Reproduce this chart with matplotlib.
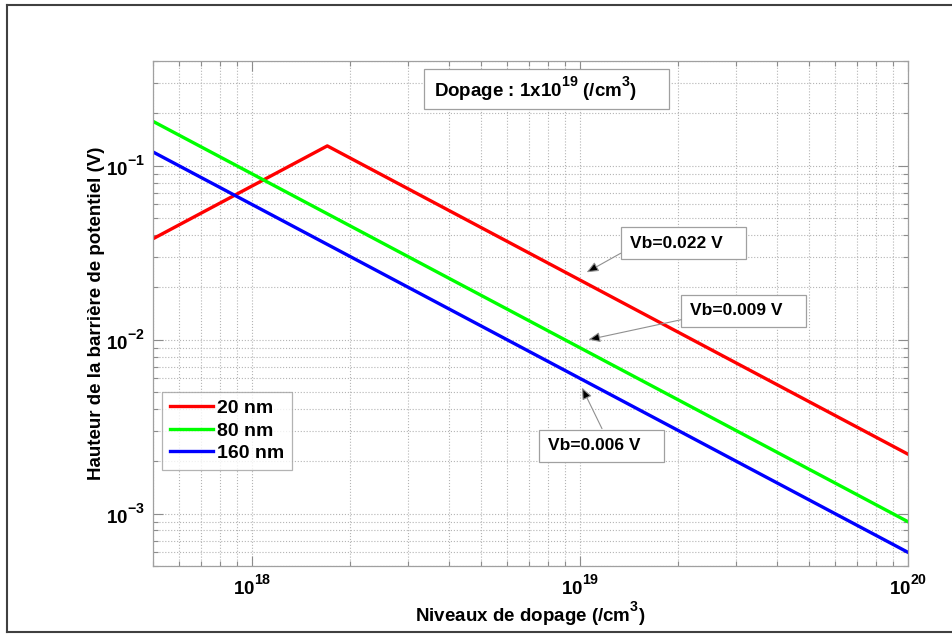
import matplotlib
matplotlib.use("Agg")
import matplotlib.pyplot as plt
import matplotlib.transforms as mtransforms
from matplotlib.patches import Rectangle
from matplotlib.ticker import LogLocator, FuncFormatter, NullFormatter
import numpy as np

plt.rcParams['font.family'] = ['Liberation Sans', 'DejaVu Sans']
plt.rcParams['font.weight'] = 'bold'
plt.rcParams['mathtext.fontset'] = 'custom'
plt.rcParams['mathtext.rm'] = 'Liberation Sans:bold'
plt.rcParams['mathtext.bf'] = 'Liberation Sans:bold'
plt.rcParams['mathtext.it'] = 'Liberation Sans:bold'
plt.rcParams['mathtext.default'] = 'bf'

# raise exponents a bit higher, as in the usual 10^n axis labels
try:
    import matplotlib._mathtext as _mt
    _mt.FontConstantsBase.sup1 = 1.0
    _mt.SHRINK_FACTOR = 0.75
except Exception:
    pass

# barrier height vs doping level, for three grain sizes
dop_20 = [5e17, 1.7e18, 1e20]
vb_20 = [0.038, 0.13, 0.0022]
dop_80 = [5e17, 1e20]
vb_80 = [0.18, 0.0009]
dop_160 = [5e17, 1e20]
vb_160 = [0.12, 0.0006]

labels = ['20 nm', '80 nm', '160 nm']
colors = ['#ff0000', '#00ff00', '#0000ff']

# values read at N = 1e19
vb_labels = ['Vb=0.022 V', 'Vb=0.009 V', 'Vb=0.006 V']
arrow_tips = [(1.05e19, 0.0244), (1.063e19, 0.0100), (1.016e19, 0.0053)]

fig = plt.figure(figsize=(9.53, 6.34), dpi=100)
ax = fig.add_axes([0.1605, 0.1073, 0.792, 0.7965])

ax.plot(dop_20, vb_20, color=colors[0], lw=2.4, label=labels[0])
ax.plot(dop_80, vb_80, color=colors[1], lw=2.4, label=labels[1])
ax.plot(dop_160, vb_160, color=colors[2], lw=2.4, label=labels[2])

ax.set_xscale('log')
ax.set_yscale('log')
ax.set_xlim(5e17, 1e20)
ax.set_ylim(5e-4, 0.4)

ax.xaxis.set_major_locator(LogLocator(base=10, numticks=10))
ax.yaxis.set_major_locator(LogLocator(base=10, numticks=10))
ax.xaxis.set_minor_locator(LogLocator(base=10, subs=np.arange(2, 10), numticks=20))
ax.yaxis.set_minor_locator(LogLocator(base=10, subs=np.arange(2, 10), numticks=20))
fmt = FuncFormatter(lambda v, p: r'$\mathbf{10^{%d}}$' % round(np.log10(v)))
ax.xaxis.set_major_formatter(fmt)
ax.yaxis.set_major_formatter(fmt)
ax.xaxis.set_minor_formatter(NullFormatter())
ax.yaxis.set_minor_formatter(NullFormatter())

ax.tick_params(which='both', direction='in', top=True, right=True,
               color='#8c8c8c', labelsize=13.5, width=0.8)
ax.tick_params(which='major', length=7, pad=6)
ax.tick_params(which='minor', length=3.5)
for s in ax.spines.values():
    s.set_color('#a0a0a0')
    s.set_linewidth(0.9)

ax.grid(True, which='both', linestyle=':', color='#b4b4b4', linewidth=0.8)
ax.set_axisbelow(True)

ax.set_xlabel(r'Niveaux de dopage (/cm$^\mathbf{3}$)', fontsize=13.5, fontweight='bold')
ax.set_ylabel('Hauteur de la barrière de potentiel (V)', fontsize=13.5, fontweight='bold')
ax.xaxis.set_label_coords(0.5, -0.067)
ax.yaxis.set_label_coords(-0.064, 0.5)

leg = ax.legend(loc='lower left', bbox_to_anchor=(0.012, 0.19), fontsize=14,
                frameon=True, fancybox=False, handlelength=2.2, borderaxespad=0,
                handletextpad=0.25, borderpad=0.4, labelspacing=0.25)
leg.get_frame().set_edgecolor('#a0a0a0')
leg.get_frame().set_linewidth(0.9)

# title box
ax.add_patch(Rectangle((0.359, 0.905), 0.3247, 0.079, transform=ax.transAxes,
                       fc='white', ec='#a0a0a0', lw=0.9, zorder=5))
ax.text(0.3723, 0.9446, r'Dopage : 1x10$^\mathbf{19}$ (/cm$^\mathbf{3}$)',
        transform=ax.transAxes, ha='left', va='center', fontsize=13.5,
        fontweight='bold', zorder=6)

# arrow labels: box (left, bottom) and arrow tail, in pixels from the arrow tip
box_pos = [(34, 13), (93, 13), (-43, -74)]
tails = [(34, 19), (93, 20), (20, -41)]
box_w, box_h = 125, 32
for txt, tip, bp, tl in zip(vb_labels, arrow_tips, box_pos, tails):
    tr = mtransforms.IdentityTransform() + mtransforms.ScaledTranslation(tip[0], tip[1], ax.transData)
    ax.add_patch(Rectangle(bp, box_w, box_h, transform=tr, fc='white',
                           ec='#a0a0a0', lw=0.9, zorder=5))
    ax.text(bp[0] + 9, bp[1] + box_h / 2, txt, transform=tr, fontsize=12.5,
            fontweight='bold', ha='left', va='center', zorder=6)
    ax.annotate('', xy=tip, xytext=tl, textcoords='offset pixels',
                arrowprops=dict(arrowstyle='-|>,head_length=0.7,head_width=0.3',
                                ec='#909090', fc='black', lw=0.8,
                                shrinkA=0, shrinkB=0), zorder=6)

# outer frame (open on the right)
fig.add_artist(plt.Line2D([7 / 953, 1.0], [1 - 5 / 634, 1 - 5 / 634], color='#404040', lw=1.5))
fig.add_artist(plt.Line2D([7 / 953, 1.0], [1 - 632 / 634, 1 - 632 / 634], color='#404040', lw=1.5))
fig.add_artist(plt.Line2D([7 / 953, 7 / 953], [1 - 5 / 634, 1 - 632 / 634], color='#404040', lw=1.5))

fig.savefig('out.png', dpi=100)
